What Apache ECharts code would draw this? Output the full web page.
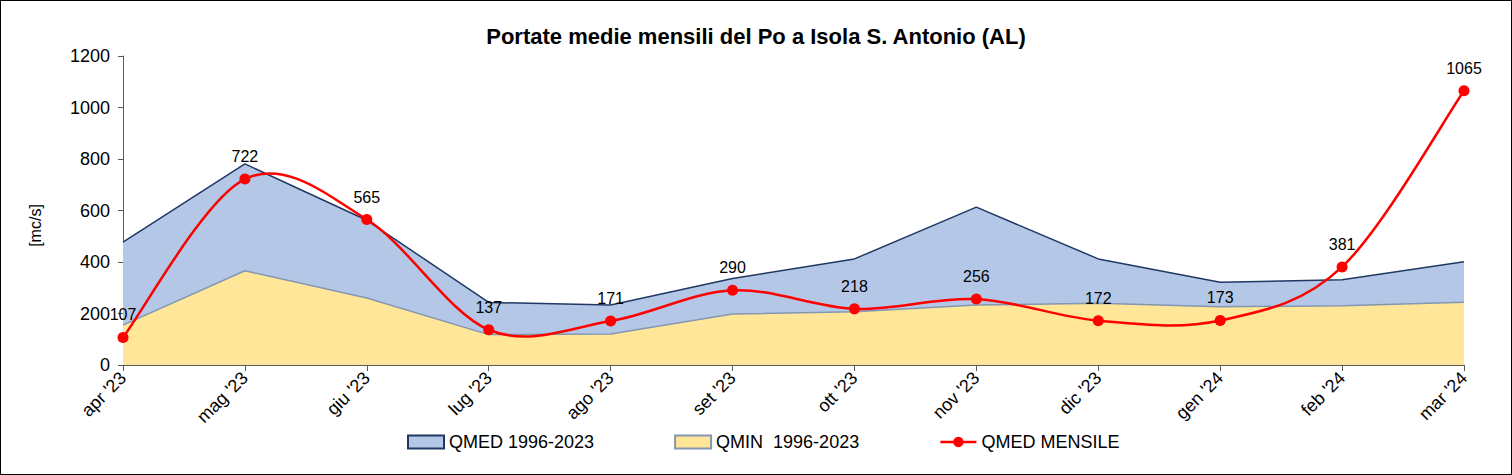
<!DOCTYPE html>
<html>
<head>
<meta charset="utf-8">
<script src="https://cdn.jsdelivr.net/npm/echarts@6/dist/echarts.min.js"></script>
<style>
  html, body { margin: 0; padding: 0; background: #fff; }
  #chart { width: 1512px; height: 475px; box-sizing: border-box; border: 1px solid #000; }
</style>
</head>
<body>
<div id="chart"></div>
<script>
var months = ["apr '23", "mag '23", "giu '23", "lug '23", "ago '23", "set '23", "ott '23", "nov '23", "dic '23", "gen '24", "feb '24", "mar '24"];
var qmed = [477, 781, 562, 243, 233, 336, 412, 613, 412, 321, 331, 401];
var qmin = [155, 366, 260, 118, 120, 198, 207, 233, 240, 226, 230, 244];
var mensile = [107, 722, 565, 137, 171, 290, 218, 256, 172, 173, 381, 1065];
var yTicks = [0, 200, 400, 600, 800, 1000, 1200];

var font = 'Arial, "Liberation Sans", sans-serif';
var chart = echarts.init(document.getElementById('chart'), null, { renderer: 'svg' });

// Excel-like smoothed curve: cubic bezier segments, control points from neighbours / 6
function renderCurve(params, api) {
  var i = params.dataIndex;
  var n = mensile.length;
  if (i >= n - 1) return null;
  var pt = function(k) {
    k = Math.max(0, Math.min(n - 1, k));
    return api.coord([k, mensile[k]]);
  };
  var p0 = pt(i - 1), p1 = pt(i), p2 = pt(i + 1), p3 = pt(i + 2);
  return {
    type: 'bezierCurve',
    shape: {
      x1: p1[0], y1: p1[1],
      cpx1: p1[0] + (p2[0] - p0[0]) / 6, cpy1: p1[1] + (p2[1] - p0[1]) / 6,
      cpx2: p2[0] - (p3[0] - p1[0]) / 6, cpy2: p2[1] - (p3[1] - p1[1]) / 6,
      x2: p2[0], y2: p2[1]
    },
    style: { stroke: '#ff0000', lineWidth: 2.5, fill: null }
  };
}

chart.setOption({
  animation: false,
  textStyle: { fontFamily: font },
  title: {
    text: 'Portate medie mensili del Po a Isola S. Antonio (AL)',
    left: 'center', top: 19,
    textStyle: { fontFamily: font, fontSize: 22, fontWeight: 'bold', color: '#000' }
  },
  grid: { left: 122, right: 47, top: 55, bottom: 109 },
  legend: {
    left: 401, top: 427,
    itemGap: 80, itemWidth: 36, itemHeight: 13,
    textStyle: { fontFamily: font, fontSize: 18, color: '#000' },
    data: [
      { name: 'QMED 1996-2023', icon: 'rect', itemStyle: { color: '#b4c7e7', borderColor: '#1f3864', borderWidth: 2 } },
      { name: 'QMIN  1996-2023', icon: 'rect', itemStyle: { color: '#ffe699', borderColor: '#8497b0', borderWidth: 2 } },
      { name: 'QMED MENSILE', itemStyle: { color: '#ff0000' }, lineStyle: { color: '#ff0000', width: 2.5, opacity: 1 } }
    ]
  },
  xAxis: {
    type: 'category',
    data: months,
    boundaryGap: false,
    axisLine: { lineStyle: { color: '#595959', width: 1 } },
    axisTick: { show: true, length: 6, lineStyle: { color: '#595959' } },
    axisLabel: { rotate: 45, color: '#000', fontSize: 18, fontFamily: font, margin: 10, interval: 0 }
  },
  yAxis: {
    type: 'value',
    min: 0, max: 1200, interval: 200,
    name: '[mc/s]',
    nameLocation: 'middle',
    nameGap: 80,
    nameRotate: 90,
    nameTextStyle: { color: '#000', fontSize: 16, fontFamily: font, padding: [0, 30, 0, 0] },
    axisLine: { show: true, lineStyle: { color: '#595959', width: 1 } },
    axisTick: { show: true, length: 5, lineStyle: { color: '#595959' } },
    axisLabel: {
      color: '#000', fontSize: 18, fontFamily: font, margin: 13,
      formatter: function(v) { return yTicks.indexOf(v) >= 0 ? String(v) : ''; }
    },
    splitLine: { show: false }
  },
  series: [
    {
      name: 'QMED 1996-2023',
      type: 'line',
      data: qmed,
      symbol: 'none',
      lineStyle: { color: '#1f3864', width: 1.5 },
      itemStyle: { color: '#b4c7e7' },
      areaStyle: { color: '#b4c7e7', opacity: 1 },
      z: 1
    },
    {
      name: 'QMIN  1996-2023',
      type: 'line',
      data: qmin,
      symbol: 'none',
      lineStyle: { color: '#8497b0', width: 1.5 },
      itemStyle: { color: '#ffe699' },
      areaStyle: { color: '#ffe699', opacity: 1 },
      z: 2
    },
    {
      name: 'curve',
      type: 'custom',
      data: mensile.map(function(v, i) { return [i, v]; }),
      renderItem: renderCurve,
      silent: true,
      z: 3
    },
    {
      name: 'QMED MENSILE',
      type: 'line',
      data: mensile,
      symbol: 'circle',
      symbolSize: 11,
      lineStyle: { color: '#ff0000', width: 2.5, opacity: 0 },
      itemStyle: { color: '#ff0000' },
      label: { show: true, position: 'top', distance: 9, color: '#000', fontSize: 16, fontFamily: font },
      z: 4
    }
  ]
});
</script>
</body>
</html>
